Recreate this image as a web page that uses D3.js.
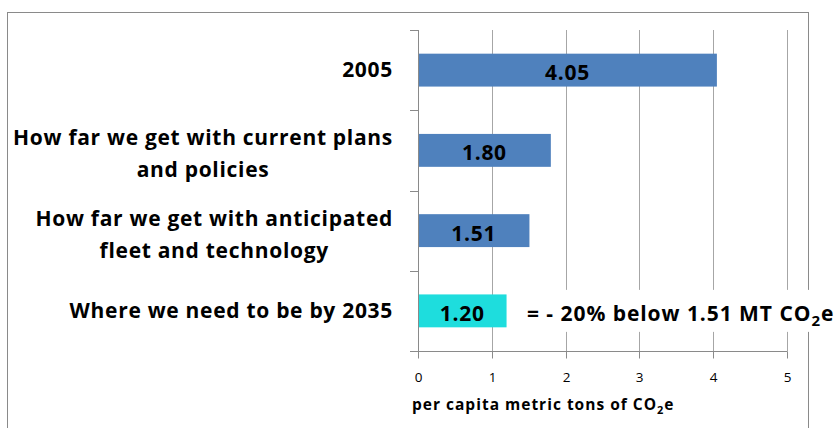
<!DOCTYPE html>
<html><head><meta charset="utf-8">
<script src="https://cdn.jsdelivr.net/npm/d3@7"></script>
<style>body{margin:0;background:#fff}svg{display:block}</style>
</head><body>
<script>
const categories = ["2005", "How far we get with current plans and policies", "How far we get with anticipated fleet and technology", "Where we need to be by 2035"];
const labelLines = [["2005"], ["How far we get with current plans", "and policies"], ["How far we get with anticipated", "fleet and technology"], ["Where we need to be by 2035"]];
const values = [4.05, 1.80, 1.51, 1.20];
const valueLabels = ["4.05", "1.80", "1.51", "1.20"];
const barColors = ["#4f81bd", "#4f81bd", "#4f81bd", "#1edddd"];
const xTicks = [0, 1, 2, 3, 4, 5];
const xTitle = "per capita metric tons of CO";
const annotation = "= - 20% below 1.51 MT CO";

const W = 840, H = 428;
const font = "'Open Sans', sans-serif";
const svg = d3.select("body").append("svg").attr("width", W).attr("height", H);

// outer border
svg.append("rect").attr("x", 7.5).attr("y", 12.5).attr("width", 801).attr("height", 440)
  .attr("fill", "none").attr("stroke", "#8a8a8a").attr("stroke-width", 1);

const m = {left: 418, top: 30, right: 787, bottom: 351};
const x = d3.scaleLinear().domain([0, 5]).range([m.left, m.right]);
const y = d3.scaleBand().domain(categories).range([m.top, m.bottom]).paddingInner(0.59).paddingOuter(0.295);
const yb = d3.scaleBand().domain(categories).range([m.top, m.bottom]);

// gridlines
svg.append("g").selectAll("line").data(xTicks.slice(1)).join("line")
  .attr("x1", d => Math.round(x(d)) + 0.5).attr("x2", d => Math.round(x(d)) + 0.5)
  .attr("y1", m.top).attr("y2", m.bottom)
  .attr("stroke", "#a6a6a6").attr("stroke-width", 1);

// x axis
const xAxis = svg.append("g").attr("transform", `translate(0,${m.bottom + 0.5})`)
  .call(d3.axisBottom(x).tickValues(xTicks).tickSize(7).tickPadding(14).tickFormat(d3.format("d")));
xAxis.select(".domain").attr("stroke", "#8a8a8a").attr("d", `M${m.left},0H${Math.round(m.right)+0.5}`);
xAxis.selectAll(".tick line").attr("stroke", "#8a8a8a");
xAxis.selectAll(".tick").attr("transform", d => `translate(${Math.round(x(d)) + 0.5},0)`);
xAxis.selectAll("text").attr("font-family", font).attr("font-size", 13.5).attr("fill", "#000");

// y axis line + ticks at band boundaries
const bounds = categories.map(c => yb(c)).concat([m.bottom]);
svg.append("line").attr("x1", m.left + 0.5).attr("x2", m.left + 0.5).attr("y1", m.top).attr("y2", m.bottom)
  .attr("stroke", "#8a8a8a");
svg.append("g").selectAll("line").data(bounds).join("line")
  .attr("x1", m.left - 8).attr("x2", m.left + 0.5)
  .attr("y1", d => Math.round(d) + 0.5).attr("y2", d => Math.round(d) + 0.5)
  .attr("stroke", "#8a8a8a");

// bars
svg.append("g").selectAll("rect").data(values).join("rect")
  .attr("x", x(0) + 1).attr("y", (d, i) => y(categories[i]))
  .attr("width", d => x(d) - x(0) - 1).attr("height", y.bandwidth())
  .attr("fill", (d, i) => barColors[i]);

// value labels
svg.append("g").selectAll("text").data(values).join("text")
  .attr("x", d => (x(0) + x(d)) / 2).attr("y", (d, i) => y(categories[i]) + y.bandwidth() / 2 + 10)
  .attr("text-anchor", "middle").attr("letter-spacing", 0.7)
  .attr("font-family", font).attr("font-weight", "bold").attr("font-size", 21).attr("fill", "#000")
  .text((d, i) => valueLabels[i]);

// category labels
const lineH = 32;
labelLines.forEach((lines, i) => {
  const cy = yb(categories[i]) + yb.bandwidth() / 2;
  const g = svg.append("g");
  const t = g.selectAll("text").data(lines).join("text")
    .attr("y", (d, j) => lines.length > 1 ? cy + (j - 0.5) * lineH + 11 : cy + 7)
    .attr("text-anchor", "middle").attr("letter-spacing", 0.7)
    .attr("font-family", font).attr("font-weight", "bold").attr("font-size", 21).attr("fill", "#000")
    .text(d => d);
  let maxW = 0;
  t.each(function() { maxW = Math.max(maxW, this.getComputedTextLength()); });
  t.attr("x", 393 - maxW / 2);
});

// annotation with white background
const ann = svg.append("g");
const annY = y(categories[3]) + y.bandwidth() / 2;
ann.append("rect").attr("x", 518).attr("y", annY - 21).attr("width", 330).attr("height", 42).attr("fill", "#fff");
const at = ann.append("text").attr("x", 527).attr("y", annY + 10).attr("letter-spacing", 0.95)
  .attr("font-family", font).attr("font-weight", "bold").attr("font-size", 21).attr("fill", "#000");
at.append("tspan").text(annotation);
at.append("tspan").attr("font-size", 15).attr("dy", 5).text("2");
at.append("tspan").attr("dy", -5).attr("font-size", 21).text("e");

// x title
const xt = svg.append("text").attr("x", 412).attr("y", 410).attr("letter-spacing", 1)
  .attr("font-family", font).attr("font-weight", "bold").attr("font-size", 15.5).attr("fill", "#000");
xt.append("tspan").text(xTitle);
xt.append("tspan").attr("font-size", 11).attr("dy", 4).text("2");
xt.append("tspan").attr("dy", -4).attr("font-size", 15.5).text("e");
</script>
</body></html>
